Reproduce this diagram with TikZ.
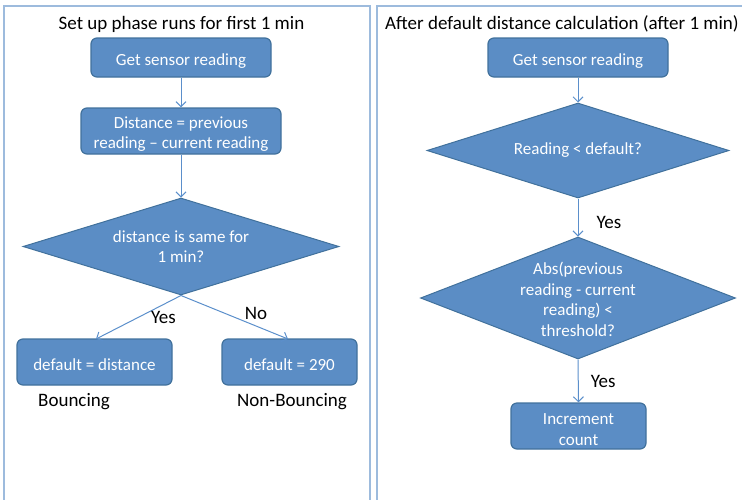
\documentclass[tikz,border=0pt]{standalone}
\usepackage{fontspec}
\setmainfont{Carlito}
\usetikzlibrary{shapes.geometric,arrows.meta}
\definecolor{boxfill}{HTML}{5B8DC5}
\definecolor{boxline}{HTML}{41719C}
\definecolor{linkc}{HTML}{5B8FCB}
\definecolor{framec}{HTML}{9DBBDD}
\newcommand{\topstrut}{\rule{0pt}{18pt}}
\tikzset{
  x=1pt,y=-1pt,
  procbox/.style={draw=boxline,line width=1.2pt,fill=boxfill,rounded corners=6pt,text=white,font=\fontsize{17}{20.5}\selectfont,align=center,inner sep=0pt},
  decbox/.style={draw=boxline,line width=1pt,fill=boxfill,diamond,text=white,font=\fontsize{17}{20.5}\selectfont,align=center,inner sep=0pt},
  link/.style={draw=linkc,line width=1pt,-{Straight Barb[length=5pt,width=10pt]}},
  lbl/.style={font=\fontsize{19}{22}\selectfont,inner sep=0pt},
  ttl/.style={font=\fontsize{19}{22}\selectfont,inner sep=0pt},
  frame/.style={draw=framec,line width=1.3pt}
}
\begin{document}
\begin{tikzpicture}
\useasboundingbox (0,0) rectangle (742,499);
% frames
\draw[frame] (4,6) rectangle (370,520);
\draw[frame] (377,520) -- (377,6) -- (760,6);
% left panel
\node[ttl] (t1) at (181.5,24) {Set up phase runs for first 1 min};
\node[procbox,minimum width=180pt,minimum height=39pt] (a1) at (181,57.5) {\topstrut Get sensor reading};
\node[procbox,minimum width=200pt,minimum height=46pt] (a2) at (181,131) {\topstrut Distance = previous\\reading -- current reading};
\node[decbox,minimum width=316pt,minimum height=97pt,aspect=3.26] (a3) at (181,246.5) {distance is same for\\1 min?};
\node[procbox,minimum width=155pt,minimum height=46pt] (a4) at (94.5,362) {\topstrut default = distance};
\node[procbox,minimum width=135pt,minimum height=46pt] (a5) at (289.5,362) {\topstrut default = 290};
\node[lbl,anchor=west] (b1) at (38,402) {Bouncing};
\node[lbl,anchor=west] (b2) at (237,402) {Non-Bouncing};
\draw[link] (a1) -- (a2);
\draw[link] (a2) -- (a3);
\draw[link] (a3.south) -- (96,339) node[lbl,pos=0.5,anchor=west,xshift=12pt,yshift=0pt] (y1) {Yes};
\draw[link] (a3.south) -- (288,339) node[lbl,pos=0.7,anchor=south,yshift=6pt] (n1) {No};
% right panel
\node[ttl] (t2) at (562,24) {After default distance calculation (after 1 min)};
\node[procbox,minimum width=180pt,minimum height=39pt] (c1) at (578,57.5) {\topstrut Get sensor reading};
\node[decbox,minimum width=302pt,minimum height=95pt,aspect=3.18] (c2) at (578,150.5) {Reading < default?};
\node[decbox,minimum width=315pt,minimum height=122pt,aspect=2.58] (c3) at (578,298) {\rule{0pt}{15pt}Abs(previous\\reading - current\\reading) <\\threshold?};
\node[procbox,minimum width=135pt,minimum height=46pt] (c4) at (578.5,426) {\topstrut Increment\\count};
\draw[link] (c1) -- (c2.north);
\draw[link] (c2.south) -- (c3.north) node[lbl,midway,anchor=west,xshift=18pt,yshift=-4.5pt] (y2) {Yes};
\draw[link] (c3.south) -- (c4.north) node[lbl,midway,anchor=west,xshift=12pt,yshift=-1pt] (y3) {Yes};
\end{tikzpicture}
\end{document}
